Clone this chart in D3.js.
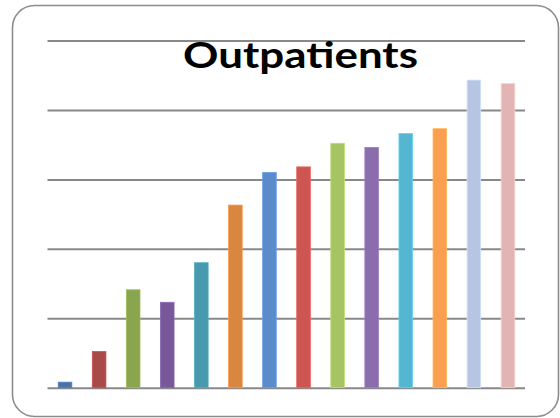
<!DOCTYPE html>
<html>
<head>
<meta charset="utf-8">
<script src="https://cdn.jsdelivr.net/npm/d3@7"></script>
<style>
  html, body { margin: 0; padding: 0; background: #fff; }
  svg { display: block; }
</style>
</head>
<body>
<svg id="chart" width="560" height="418"></svg>
<script>
// Outpatient counts per period, one coloured column each
const categories = ["1", "2", "3", "4", "5", "6", "7", "8", "9", "10", "11", "12", "13", "14"];
const values = [8, 52, 141, 123, 180, 263, 310, 318, 352, 346, 366, 373, 443, 438];
const barColors = [
  "#4a72a8", "#a94a48", "#89a54e", "#77599a", "#4799ad", "#d98640",
  "#5b8bcb", "#cd5653", "#a6c463", "#8b6dad", "#54b6d0", "#f99f4f",
  "#b5c5e2", "#e2b4b3"
];
const gridTicks = [0, 100, 200, 300, 400, 500];
const title = "Outpatients";

const svg = d3.select("#chart");

// Rounded chart frame
svg.append("rect")
  .attr("x", 12.5).attr("y", 5.5)
  .attr("width", 546).attr("height", 411)
  .attr("rx", 22).attr("ry", 22)
  .attr("fill", "#fff")
  .attr("stroke", "#8c8c8c")
  .attr("stroke-width", 1.6);

const x = d3.scaleBand()
  .domain(categories)
  .range([48, 525])
  .paddingInner(0.6)
  .paddingOuter(0.3);

const y = d3.scaleLinear()
  .domain([0, 500])
  .range([387.7, 40.5]);

// Horizontal gridlines (the value axis itself carries no labels)
const yAxis = d3.axisLeft(y)
  .tickValues(gridTicks)
  .tickSize(-(525 - 47.5))
  .tickFormat("");

const gAxis = svg.append("g")
  .attr("transform", "translate(47.5,0)")
  .call(yAxis);
gAxis.select(".domain").remove();
gAxis.selectAll(".tick line")
  .attr("stroke", "#888")
  .attr("stroke-width", 2);

// Columns
svg.append("g")
  .selectAll("rect")
  .data(values)
  .join("rect")
  .attr("x", (d, i) => x(categories[i]))
  .attr("width", x.bandwidth())
  .attr("y", d => y(d))
  .attr("height", d => y(0) - y(d))
  .attr("fill", (d, i) => barColors[i])
  .attr("stroke", (d, i) => d3.color(barColors[i]).brighter(0.4))
  .attr("stroke-width", 0.8);

// Title drawn over the gridlines
svg.append("text")
  .attr("x", 300.5)
  .attr("y", 68)
  .attr("text-anchor", "middle")
  .attr("font-family", "Lato, 'Noto Sans', sans-serif")
  .attr("font-weight", 700)
  .attr("font-size", 37)
  .attr("textLength", 235)
  .attr("lengthAdjust", "spacingAndGlyphs")
  .attr("fill", "#000")
  .text(title);
</script>
</body>
</html>
